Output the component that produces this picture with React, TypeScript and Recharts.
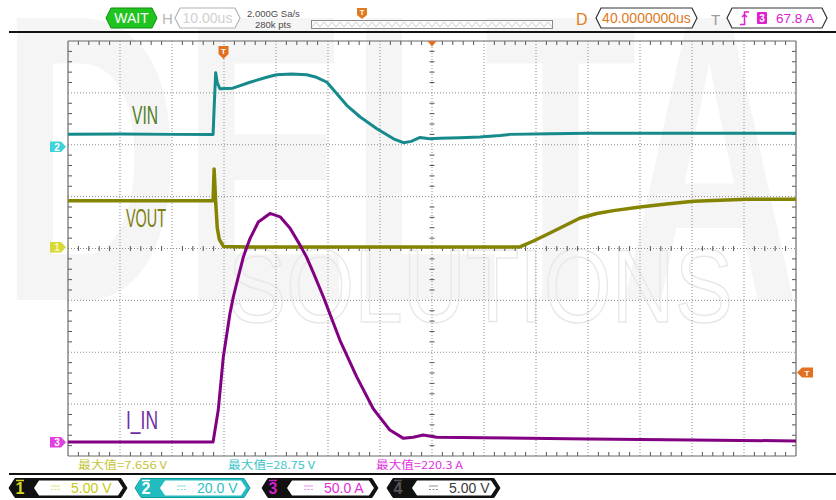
import React from 'react';
import { LineChart, Line, XAxis, YAxis, ReferenceLine } from 'recharts';

// ---- Time base: 10 µs/div, 14 divisions, 40 µs delay ----
const T_MIN = -30;
const T_MAX = 110;
const DIV_T = 10;
const GRID_TIMES = [-30, -20, -10, 0, 10, 20, 30, 40, 50, 60, 70, 80, 90, 100, 110];
const GRID_DIVS = [-4, -3, -2, -1, 0, 1, 2, 3, 4];

// ---- Channel 2: VIN (V) ----
const VIN_T = [-30, -20, -10, -2.1, -1.9, -1.6, -1.3, -0.8, 1.7, 5.0, 8.2, 10.1, 13, 15.9, 17.8, 19.8, 21.7, 23.6, 26.2, 29.4, 32.6, 34.5, 36.0, 37.7, 39.5, 41.5, 45.4, 49.2, 53.1, 55, 62.7, 70, 80, 95, 110];
const VIN_V = [5.0, 5.1, 5.0, 5.0, 15, 28.75, 25.0, 22.6, 22.8, 25.1, 27.0, 28.0, 28.3, 28.0, 27.0, 25.1, 20.7, 16.2, 11.7, 7.2, 3.3, 1.8, 2.3, 3.8, 3.3, 3.5, 3.7, 4.0, 4.6, 5.0, 5.2, 5.4, 5.4, 5.4, 5.4];

// ---- Channel 1: VOUT (V) ----
const VOUT_T = [-30, -2.1, -1.9, -1.6, -1.3, -0.9, -0.1, 5, 20, 40, 56.9, 59.4, 62.1, 65.3, 68.5, 71.7, 74.9, 80, 85.1, 90.3, 95.4, 100.5, 110];
const VOUT_V = [4.6, 4.6, 7.656, 4.5, 2.0, 0.87, 0.2, 0.15, 0.15, 0.15, 0.15, 0.7, 1.35, 2.14, 2.94, 3.37, 3.65, 4.0, 4.29, 4.55, 4.64, 4.74, 4.74];

// ---- Channel 3: I_IN (A) ----
const IIN_T = [-30, -2.1, -1.1, -0.13, 1.15, 1.8, 2.44, 3.7, 4.4, 5.0, 6.6, 8.85, 10.8, 12.7, 14.6, 15.9, 17.2, 19.1, 22.3, 25.5, 28.7, 31.9, 34.5, 36.4, 38.3, 40.9, 50, 70, 90, 110];
const IIN_A = [0, 0, 31, 82, 124, 140, 153, 178, 188, 196, 212, 220.3, 217, 206, 190, 178, 163, 140, 98, 63, 32, 11.5, 3.5, 4.5, 6.7, 4.5, 4.0, 3.0, 2.0, 1.0];

// Vertical settings: units per division and ground offset in divisions
const CH1 = { perDiv: 5, offset: 0 };
const CH2 = { perDiv: 20, offset: 1.95 };
const CH3 = { perDiv: 50, offset: -3.73 };

const domainOf = (ch: { perDiv: number; offset: number }): [number, number] => [
  (-4 - ch.offset) * ch.perDiv,
  (4 - ch.offset) * ch.perDiv,
];

const zip = (ts: number[], vs: number[]) => ts.map((t, i) => ({ t, v: vs[i] }));
const vinData = zip(VIN_T, VIN_V);
const voutData = zip(VOUT_T, VOUT_V);
const iinData = zip(IIN_T, IIN_A);

const W = 836;
const H = 500;
const MARGIN = { top: 41, right: 40, bottom: 44, left: 68 };
const PX_PER_T = (W - MARGIN.left - MARGIN.right) / (T_MAX - T_MIN);
const PX_PER_DIV = (H - MARGIN.top - MARGIN.bottom) / 8;

// minor tick positions (5 per division)
const minorT: number[] = [];
GRID_TIMES.slice(0, -1).forEach((g) => {
  for (let k = 1; k < 5; k++) minorT.push(g + (k * DIV_T) / 5);
});
const minorD: number[] = [];
GRID_DIVS.slice(0, -1).forEach((g) => {
  for (let k = 1; k < 5; k++) minorD.push(g + k / 5);
});

const TRACE_VIN = '#178a8c';
const TRACE_VOUT = '#848400';
const TRACE_IIN = '#820082';
const GRID = '#8c8c8c';
const TICK = '#555';
const UI_FONT = '"Liberation Sans", Arial, sans-serif';
const CJK_FONT = '"Noto Sans CJK SC", "Liberation Mono", monospace';
const LABEL_FONT = '"Liberation Sans Narrow", "Liberation Sans", sans-serif';

const hexPath = (x1: number, x2: number, yc: number, h: number, p: number) =>
  `M${x1},${yc} L${x1 + p},${yc - h / 2} L${x2 - p},${yc - h / 2} L${x2},${yc} L${x2 - p},${yc + h / 2} L${x1 + p},${yc + h / 2} Z`;

function Watermark() {
  return (
    <svg width={W} height={H} style={{ position: 'absolute', left: 0, top: 0 }}>
      <text x={0} y={300} fontSize={410} fontWeight={700} fill="#f5f5f5" textLength={800} lengthAdjust="spacingAndGlyphs" fontFamily={UI_FONT}>
        DELTA
      </text>
      <text x={228} y={322} fontSize={104} fill="none" stroke="#e8e8e8" strokeWidth={1.5} textLength={505} lengthAdjust="spacingAndGlyphs" fontFamily={UI_FONT}>
        SOLUTIONS
      </text>
    </svg>
  );
}

function DcSymbol({ x, y, color }: { x: number; y: number; color: string }) {
  return (
    <g stroke={color} strokeWidth={1} opacity={0.55}>
      <line x1={x} y1={y - 2} x2={x + 9} y2={y - 2} />
      <line x1={x} y1={y + 1.5} x2={x + 9} y2={y + 1.5} strokeDasharray="2 1.5" />
    </g>
  );
}

function ChannelTag({ x1, x2, num, outer, numColor, text, textColor }: { x1: number; x2: number; num: string; outer: string; numColor: string; text: string; textColor: string }) {
  const yc = 488;
  return (
    <g>
      <path d={hexPath(x1, x2, yc, 19, 6)} fill={outer} stroke={outer === '#111' ? '#111' : '#0f9a9a'} strokeWidth={1} />
      <path d={hexPath(x1 + 25, x2 - 4, yc, 15, 5)} fill="#fff" />
      <line x1={x1 + 7} y1={480.5} x2={x1 + 15} y2={480.5} stroke={numColor} strokeWidth={1.5} />
      <text x={x1 + 11} y={yc + 6} textAnchor="middle" fontSize={16} fontWeight={700} fill={numColor} fontFamily={UI_FONT}>
        {num}
      </text>
      <DcSymbol x={x1 + 42} y={yc} color={textColor} />
      <text x={x1 + 62} y={yc + 5} fontSize={14} fill={textColor} fontFamily={UI_FONT}>
        {text}
      </text>
    </g>
  );
}

function Overlay() {
  // zigzag inside the memory bar
  let zig = 'M312,27';
  for (let x = 312, up = true; x < 552; x += 4, up = !up) zig += ` L${x + 4},${up ? 22 : 27}`;
  return (
    <svg width={W} height={H} style={{ position: 'absolute', left: 0, top: 0, pointerEvents: 'none' }}>
      {/* top status bar */}
      <path d={hexPath(106, 157, 18, 20, 5)} fill="#1fc41f" stroke="#0d8f0d" strokeWidth={1} />
      <text x={131.5} y={23} textAnchor="middle" fontSize={14} fill="#fff" fontFamily={UI_FONT}>WAIT</text>
      <text x={162} y={24} fontSize={15} fill="#b8b8b8" fontFamily={UI_FONT}>H</text>
      <path d={hexPath(175, 240, 18, 20, 5)} fill="#fff" stroke="#b4b4b4" strokeWidth={1.2} />
      <text x={207.5} y={23} textAnchor="middle" fontSize={14} fill="#cfcfcf" fontFamily={UI_FONT}>10.00us</text>
      <text x={247} y={17} fontSize={9.5} fill="#4a4a4a" fontFamily={UI_FONT}>2.000G Sa/s</text>
      <text x={255} y={28} fontSize={9.5} fill="#4a4a4a" fontFamily={UI_FONT}>280k pts</text>
      <rect x={311.5} y={20.5} width={241} height={8} fill="#fbfbfb" stroke="#8a8a8a" strokeWidth={1} />
      <path d={zig} fill="none" stroke="#c4c4c4" strokeWidth={0.8} />
      <path d="M357,8 L367,8 L367,15 L362,19 L357,15 Z" fill="#e27a1e" />
      <text x={362} y={15} textAnchor="middle" fontSize={7.5} fontWeight={700} fill="#fff" fontFamily={UI_FONT}>T</text>
      <text x={576} y={25} fontSize={16} fill="#e0801e" fontFamily={UI_FONT}>D</text>
      <path d={hexPath(596, 697, 18, 20, 5)} fill="#fff" stroke="#333" strokeWidth={1.2} />
      <text x={646.5} y={23} textAnchor="middle" fontSize={14} fill="#e07a1e" fontFamily={UI_FONT}>40.0000000us</text>
      <text x={711} y={25} fontSize={15} fill="#9a9a9a" fontFamily={UI_FONT}>T</text>
      <path d={hexPath(727, 827, 18, 20, 5)} fill="#fff" stroke="#333" strokeWidth={1.2} />
      <path d="M740,24.5 L744.5,24.5 L744.5,12 L749,12 M742,17 L744.5,14.5 L747,17" fill="none" stroke="#e020d0" strokeWidth={1.5} />
      <rect x={757} y={12} width={10} height={12} rx={1} fill="#e020d0" />
      <text x={762} y={22} textAnchor="middle" fontSize={10} fontWeight={700} fill="#fff" fontFamily={UI_FONT}>3</text>
      <text x={776} y={23} fontSize={13.5} fill="#e020d0" fontFamily={UI_FONT}>67.8 A</text>
      <line x1={9} y1={32} x2={836} y2={32} stroke="#111" strokeWidth={2} />

      {/* trigger and position markers */}
      <path d="M218.5,46 L228.5,46 L228.5,54 L223.5,59 L218.5,54 Z" fill="#e27020" />
      <text x={223.5} y={54} textAnchor="middle" fontSize={8} fontWeight={700} fill="#fff" fontFamily={UI_FONT}>T</text>
      <path d="M427.5,41 L436.5,41 L432,46.5 Z" fill="#e27020" />
      <path d="M797,372.5 L802,367.5 L813,367.5 L813,377.5 L802,377.5 Z" fill="#e27020" />
      <text x={807} y={376} textAnchor="middle" fontSize={8} fontWeight={700} fill="#fff" fontFamily={UI_FONT}>T</text>

      {/* channel ground markers */}
      <path d="M50,141.5 L61,141.5 L66,146.7 L61,152 L50,152 Z" fill="#3fd2d8" />
      <text x={57} y={150.5} textAnchor="middle" fontSize={10} fontWeight={700} fill="#fff" fontFamily={UI_FONT}>2</text>
      <path d="M50,242 L61,242 L66,247.3 L61,252.5 L50,252.5 Z" fill="#d8d838" />
      <text x={57} y={251} textAnchor="middle" fontSize={10} fontWeight={700} fill="#fafab0" fontFamily={UI_FONT}>1</text>
      <path d="M50,437 L61,437 L66,442.3 L61,447.5 L50,447.5 Z" fill="#e040e0" />
      <text x={57} y={446} textAnchor="middle" fontSize={10} fontWeight={700} fill="#fff" fontFamily={UI_FONT}>3</text>

      {/* trace labels */}
      <text x={132} y={124} fontSize={25} fill="#4f7d2b" textLength={26} lengthAdjust="spacingAndGlyphs" fontFamily={LABEL_FONT}>VIN</text>
      <text x={126} y={227} fontSize={25} fill="#7e7e12" textLength={40} lengthAdjust="spacingAndGlyphs" fontFamily={LABEL_FONT}>VOUT</text>
      <text x={126} y={429} fontSize={25} fill="#7030a0" textLength={32} lengthAdjust="spacingAndGlyphs" fontFamily={LABEL_FONT}>I_IN</text>

      {/* measurements */}
      <text x={78} y={469} fontSize={11} fill="#c4c43a" textLength={89} lengthAdjust="spacingAndGlyphs" fontFamily={CJK_FONT}>最大值=7.656 V</text>
      <text x={228} y={469} fontSize={11} fill="#3cc4c8" textLength={87} lengthAdjust="spacingAndGlyphs" fontFamily={CJK_FONT}>最大值=28.75 V</text>
      <text x={376} y={469} fontSize={11} fill="#e030e0" textLength={87} lengthAdjust="spacingAndGlyphs" fontFamily={CJK_FONT}>最大值=220.3 A</text>
      <line x1={9} y1={474} x2={836} y2={474} stroke="#111" strokeWidth={2} />

      {/* channel settings */}
      <ChannelTag x1={9} x2={127} num="1" outer="#111" numColor="#d8d820" text="5.00 V" textColor="#c8c812" />
      <ChannelTag x1={135} x2={250} num="2" outer="#22bcc0" numColor="#fff" text="20.0 V" textColor="#2cc0c4" />
      <ChannelTag x1={262} x2={378} num="3" outer="#111" numColor="#d020d0" text="50.0 A" textColor="#e030e0" />
      <ChannelTag x1={387} x2={500} num="4" outer="#111" numColor="#555" text="5.00 V" textColor="#3a3a3a" />
    </svg>
  );
}

export default function App() {
  const tickT = 4 / PX_PER_T;
  const tickD = 4 / PX_PER_DIV;
  const cT = 2.5 / PX_PER_T;
  const cD = 2.5 / PX_PER_DIV;
  const centreT = (T_MIN + T_MAX) / 2;
  return (
    <div style={{ position: 'absolute', left: 0, top: 0, width: W, height: H, background: '#fff', overflow: 'hidden' }}>
      <Watermark />
      <div style={{ position: 'absolute', left: 0, top: 0 }}>
        <LineChart width={W} height={H} margin={MARGIN}>
          <XAxis type="number" dataKey="t" domain={[T_MIN, T_MAX]} allowDataOverflow hide />
          <YAxis yAxisId="div" type="number" domain={[-4, 4]} allowDataOverflow hide />
          <YAxis yAxisId="ch1" type="number" domain={domainOf(CH1)} allowDataOverflow hide />
          <YAxis yAxisId="ch2" type="number" domain={domainOf(CH2)} allowDataOverflow hide />
          <YAxis yAxisId="ch3" type="number" domain={domainOf(CH3)} allowDataOverflow hide />

          {GRID_TIMES.slice(1, -1).map((t) => (
            <ReferenceLine key={`gx${t}`} yAxisId="div" x={t} stroke={GRID} strokeDasharray="1 2" />
          ))}
          {GRID_DIVS.slice(1, -1).map((d) => (
            <ReferenceLine key={`gy${d}`} yAxisId="div" y={d} stroke={GRID} strokeDasharray="1 2" />
          ))}

          {minorT.map((t) => (
            <ReferenceLine key={`tt${t}`} yAxisId="div" segment={[{ x: t, y: 4 }, { x: t, y: 4 - tickD }]} stroke={TICK} />
          ))}
          {minorT.map((t) => (
            <ReferenceLine key={`tb${t}`} yAxisId="div" segment={[{ x: t, y: -4 }, { x: t, y: -4 + tickD }]} stroke={TICK} />
          ))}
          {minorT.map((t) => (
            <ReferenceLine key={`tc${t}`} yAxisId="div" segment={[{ x: t, y: -cD }, { x: t, y: cD }]} stroke={TICK} />
          ))}
          {minorD.map((d) => (
            <ReferenceLine key={`tl${d}`} yAxisId="div" segment={[{ x: T_MIN, y: d }, { x: T_MIN + tickT, y: d }]} stroke={TICK} />
          ))}
          {minorD.map((d) => (
            <ReferenceLine key={`tr${d}`} yAxisId="div" segment={[{ x: T_MAX, y: d }, { x: T_MAX - tickT, y: d }]} stroke={TICK} />
          ))}
          {minorD.map((d) => (
            <ReferenceLine key={`tm${d}`} yAxisId="div" segment={[{ x: centreT - cT, y: d }, { x: centreT + cT, y: d }]} stroke={TICK} />
          ))}

          <ReferenceLine yAxisId="div" x={T_MIN} stroke="#6a6a6a" strokeWidth={1.2} />
          <ReferenceLine yAxisId="div" x={T_MAX} stroke="#6a6a6a" strokeWidth={1.2} />
          <ReferenceLine yAxisId="div" y={4} stroke="#6a6a6a" strokeWidth={1.2} />
          <ReferenceLine yAxisId="div" y={-4} stroke="#6a6a6a" strokeWidth={1.2} />

          <Line yAxisId="ch2" data={vinData} dataKey="v" type="linear" dot={false} stroke={TRACE_VIN} strokeWidth={3} strokeLinejoin="round" isAnimationActive={false} />
          <Line yAxisId="ch1" data={voutData} dataKey="v" type="linear" dot={false} stroke={TRACE_VOUT} strokeWidth={3.5} strokeLinejoin="round" isAnimationActive={false} />
          <Line yAxisId="ch3" data={iinData} dataKey="v" type="linear" dot={false} stroke={TRACE_IIN} strokeWidth={3} strokeLinejoin="round" isAnimationActive={false} />
        </LineChart>
      </div>
      <Overlay />
    </div>
  );
}
